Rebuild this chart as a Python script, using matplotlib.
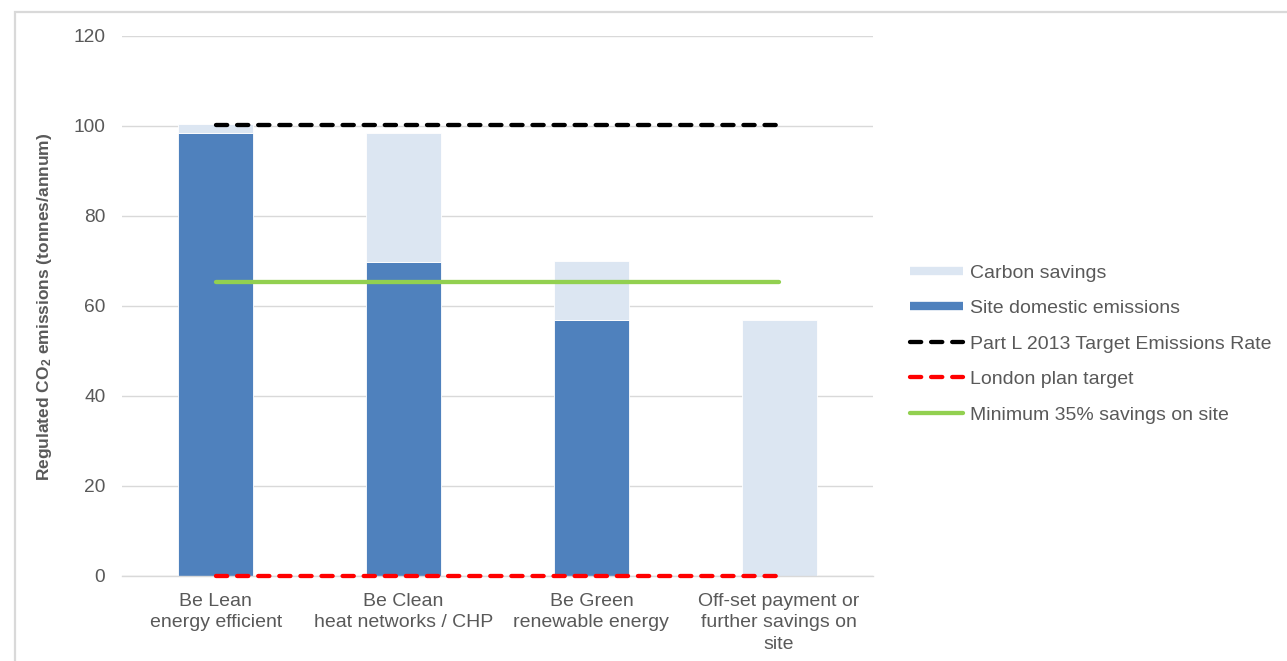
import matplotlib
matplotlib.use("Agg")
import matplotlib.pyplot as plt
from matplotlib.lines import Line2D
from matplotlib.patches import Rectangle
import numpy as np

plt.rcParams['font.family'] = ['Liberation Sans', 'DejaVu Sans']
plt.rcParams['mathtext.fontset'] = 'custom'
plt.rcParams['mathtext.rm'] = 'Liberation Sans:bold'
plt.rcParams['mathtext.default'] = 'rm'

# ---- data ----
categories = ["Be Lean\nenergy efficient", "Be Clean\nheat networks / CHP",
              "Be Green\nrenewable energy", "Off-set payment or\nfurther savings on\nsite"]
site_emissions = [98.4, 69.8, 56.9, 0.0]
carbon_savings = [2.0, 28.6, 13.0, 56.8]
target_rate = [100.3, 100.3, 100.3, 100.3]
london_target = [0.0, 0.0, 0.0, 0.0]
min_35_savings = [65.3, 65.3, 65.3, 65.3]
yticks = [0, 20, 40, 60, 80, 100, 120]

W, H = 1287, 661
fig = plt.figure(figsize=(W / 100, H / 100), dpi=100)
ax = fig.add_axes([122 / W, (H - 576) / H, (873 - 122) / W, (576 - 36) / H])

dark = '#4F81BD'
light = '#DCE6F2'
text_c = '#595959'
grid_c = '#D9D9D9'
fs = 14

x = np.arange(len(categories))
bw = 0.40
ax.bar(x, site_emissions, bw, color=dark, edgecolor='white', linewidth=0.6, zorder=2)
ax.bar(x, carbon_savings, bw, bottom=site_emissions, color=light, edgecolor='white',
       linewidth=0.6, zorder=2)

lx = x.astype(float)
ax.plot(lx, target_rate, color='black', lw=3.1, dashes=(2.6, 2.3),
        dash_capstyle='round', zorder=4)
ax.plot(lx, london_target, color='#FF0000', lw=3.1, dashes=(2.6, 2.3),
        dash_capstyle='round', zorder=4, clip_on=False)
ax.plot(lx, min_35_savings, color='#92D050', lw=3.1, solid_capstyle='round', zorder=4)

ax.set_xlim(-0.5, 3.5)
ax.set_ylim(0, 120)
ax.set_yticks(yticks)
ax.set_yticklabels([str(v) for v in yticks])
ax.set_xticks(x)
ax.set_xticklabels(categories, linespacing=1.34)
ax.tick_params(axis='both', length=0, colors=text_c, labelsize=fs)
ax.tick_params(axis='y', labelsize=13.8, pad=12)
ax.tick_params(axis='x', pad=12)
ax.yaxis.grid(True, color=grid_c, lw=1.0, zorder=0)
ax.set_axisbelow(True)
for s in ['top', 'right', 'left']:
    ax.spines[s].set_visible(False)
ax.spines['bottom'].set_color(grid_c)
ax.spines['bottom'].set_linewidth(1.0)

fig.text(45 / W, 1 - 307 / H, r"Regulated CO$_2$ emissions (tonnes/annum)",
         rotation=90, ha='center', va='center', fontsize=12.5, fontweight='bold',
         color=text_c)

handles = [
    Line2D([], [], color=light, lw=6, solid_capstyle='butt'),
    Line2D([], [], color=dark, lw=6, solid_capstyle='butt'),
    Line2D([], [], color='black', lw=3.1, dashes=(2.6, 2.3), dash_capstyle='round'),
    Line2D([], [], color='#FF0000', lw=3.1, dashes=(2.6, 2.3), dash_capstyle='round'),
    Line2D([], [], color='#92D050', lw=3.1, solid_capstyle='round'),
]
labels = ["Carbon savings", "Site domestic emissions", "Part L 2013 Target Emissions Rate",
          "London plan target", "Minimum 35% savings on site"]
leg = fig.legend(handles, labels, loc='upper left',
                 bbox_to_anchor=(910 / W, 1 - 264 / H), frameon=False,
                 fontsize=fs, handlelength=2.75, handletextpad=0.33,
                 labelspacing=0.92, borderpad=0, borderaxespad=0)
for t in leg.get_texts():
    t.set_color(text_c)

fig.patches.append(Rectangle((15 / W, -0.1), 1.2, 1.1 - 12 / H, transform=fig.transFigure,
                             fill=False, edgecolor=grid_c, lw=1.6))

fig.savefig("out.png", dpi=100)
